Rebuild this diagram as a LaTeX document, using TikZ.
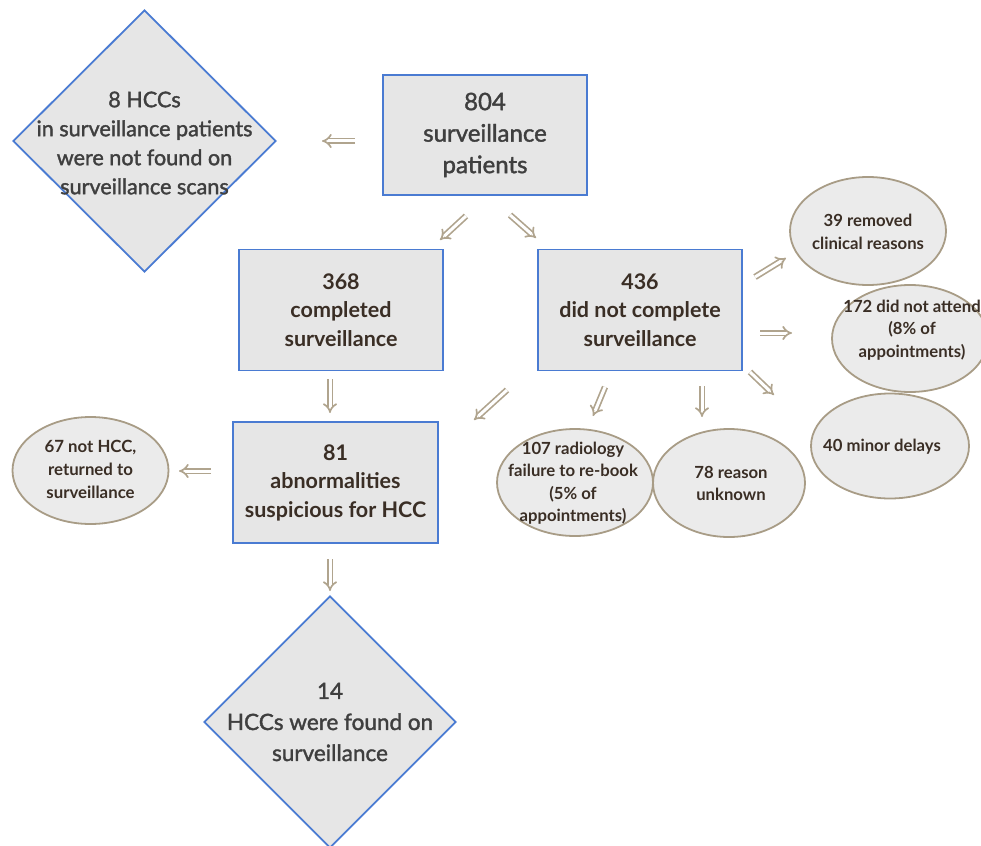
\documentclass[tikz,border=0pt]{standalone}
\usepackage{fontspec}
\setmainfont{Lato}
\newfontfamily\latomid{Lato}[FakeBold=1.6]
\usetikzlibrary{shapes.geometric,arrows.meta}
\definecolor{boxblue}{HTML}{4A7BD2}
\definecolor{arrowtan}{HTML}{B0A48E}
\definecolor{ellborder}{HTML}{A89C86}
\definecolor{boxfill}{HTML}{E6E6E6}
\definecolor{ellfill}{HTML}{EBEBEB}
\definecolor{txtdark}{HTML}{3A2E25}
\definecolor{txtgray}{HTML}{3F3F3F}
\begin{document}
\begin{tikzpicture}[x=1pt,y=-1pt,
  stepbox/.style={rectangle, draw=boxblue, line width=1.8pt, fill=boxfill, inner sep=0pt,
    align=center, text=txtdark, font=\bfseries\fontsize{21.5}{28.5}\selectfont},
  topbox/.style={stepbox, text=txtgray, font=\latomid\fontsize{24}{31.5}\selectfont},
  decision/.style={diamond, aspect=1, draw=boxblue, line width=1.8pt, fill=boxfill, inner sep=0pt},
  dtext/.style={align=center, text=txtgray, inner sep=0pt, font=\latomid\fontsize{21.6}{29}\selectfont},
  outcome/.style={ellipse, draw=ellborder, line width=1.8pt, fill=ellfill, inner sep=0pt},
  otext/.style={align=center, text=txtdark, inner sep=0pt, font=\bfseries\fontsize{16.7}{22.5}\selectfont},
  flow/.style={draw=arrowtan, line width=1.7pt, double=white, double distance=3pt,
    -{Implies[length=7pt]}},
]
\useasboundingbox (0,0) rectangle (981,845);
\clip (0,0) rectangle (981,845);

% boxes
\node[topbox, minimum width=204pt, minimum height=120pt] (b804) at (485,135)
  {804\\surveillance\\patients};
\node[stepbox, minimum width=204pt, minimum height=121pt] (b368) at (341,310)
  {368\\completed\\surveillance};
\node[stepbox, minimum width=204pt, minimum height=121pt] (b436) at (640,310)
  {436\\did not complete\\surveillance};
\node[stepbox, minimum width=205pt, minimum height=121pt] (b81) at (335.5,482.5)
  {81\\abnormalities\\suspicious for HCC};

% diamonds
\node[decision, minimum width=263pt, minimum height=262pt] (d8) at (144.5,141) {};
\node[dtext] (t8) at (144.5,143)
  {8 HCCs\\in surveillance patients\\were not found on\\surveillance scans};
\node[decision, minimum width=252pt, minimum height=252pt] (d14) at (330,722) {};
\node[dtext, font=\latomid\fontsize{22.5}{31}\selectfont] (t14) at (330,722)
  {14\\HCCs were found on\\surveillance};

% ellipses
\node[outcome, minimum width=156pt, minimum height=108pt] (e39) at (868,231) {};
\node[otext] (t39) at (868,232) {39 removed\\clinical reasons};
\node[outcome, minimum width=156pt, minimum height=107pt] (e172) at (910,338.5) {};
\node[otext] (t172) at (912,330) {172 did not attend\\(8\% of\\appointments)};
\node[outcome, minimum width=158pt, minimum height=105pt] (e40) at (890,446) {};
\node[otext] (t40) at (882,447) {40 minor delays};
\node[outcome, minimum width=156pt, minimum height=107pt] (e107) at (575,482.5) {};
\node[otext] (t107) at (573,483) {107 radiology\\failure to re-book\\(5\% of\\appointments)};
\node[outcome, minimum width=152pt, minimum height=108pt] (e78) at (729,483) {};
\node[otext] (t78) at (731,483.5) {78 reason\\unknown};
\node[outcome, minimum width=156pt, minimum height=107pt] (e67) at (90.5,470.5) {};
\node[otext, font=\bfseries\fontsize{16.8}{23}\selectfont] (t67) at (90.5,469)
  {67 not HCC,\\returned to\\surveillance};

% arrow end points
\coordinate (a1s) at (355,141);   \coordinate (a1e) at (322,141);
\coordinate (a2s) at (466,216);   \coordinate (a2e) at (440,240);
\coordinate (a3s) at (510,215);   \coordinate (a3e) at (536,238);
\coordinate (a4s) at (330,379);   \coordinate (a4e) at (330,413);
\coordinate (a5s) at (507,390);   \coordinate (a5e) at (474,420);
\coordinate (a6s) at (605,387);   \coordinate (a6e) at (593,416);
\coordinate (a7s) at (702,386);   \coordinate (a7e) at (702,417);
\coordinate (a8s) at (750,372);   \coordinate (a8e) at (774,395);
\coordinate (a9s) at (755,277);   \coordinate (a9e) at (786,258);
\coordinate (a10s) at (760,333); \coordinate (a10e) at (792,333);
\coordinate (a11s) at (211,471); \coordinate (a11e) at (179,471);
\coordinate (a12s) at (330,559); \coordinate (a12e) at (330,591);

\draw[flow] (a1s) -- (a1e);
\draw[flow] (a2s) -- (a2e);
\draw[flow] (a3s) -- (a3e);
\draw[flow] (a4s) -- (a4e);
\draw[flow] (a5s) -- (a5e);
\draw[flow] (a6s) -- (a6e);
\draw[flow] (a7s) -- (a7e);
\draw[flow] (a8s) -- (a8e);
\draw[flow] (a9s) -- (a9e);
\draw[flow] (a10s) -- (a10e);
\draw[flow] (a11s) -- (a11e);
\draw[flow] (a12s) -- (a12e);
\end{tikzpicture}
\end{document}
